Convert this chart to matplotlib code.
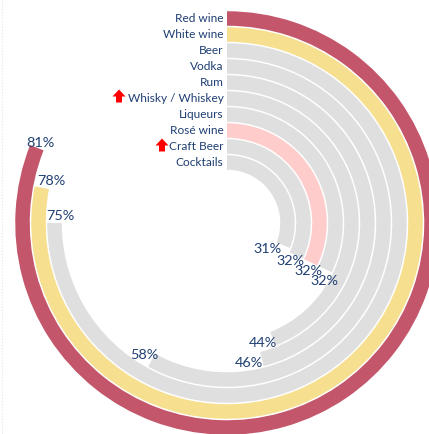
import numpy as np
import matplotlib
matplotlib.use("Agg")
import matplotlib.pyplot as plt
from matplotlib.lines import Line2D
from matplotlib.patches import Polygon
from matplotlib.transforms import IdentityTransform

plt.rcParams['font.family'] = ['Lato', 'DejaVu Sans']

categories = ['Red wine', 'White wine', 'Beer', 'Vodka', 'Rum', 'Whisky / Whiskey',
              'Liqueurs', 'Rosé wine', 'Craft Beer', 'Cocktails']
values = [81, 78, 75, 58, 46, 44, 32, 32, 32, 31]
colours = ['#C4566B', '#F6DF8E', '#DFDFDF', '#DFDFDF', '#DFDFDF', '#DFDFDF',
           '#DFDFDF', '#FFCCCC', '#DFDFDF', '#DFDFDF']

W, H = 429, 435
cx, cy = 227, 224   # centre of rings, px from top left
R = 212
pitch = 16
text_col = '#1F3F73'

# hand placed nudges for the percent labels (px, y up)
nudge = [(4, 6), (10, 8), (6, 8), (-7, 6), (-13, -3), (-10, -3), (-1, -11), (-2, -8), (-6, -4), (-16, -3)]

fig = plt.figure(figsize=(W / 100, H / 100), dpi=100)
ax = fig.add_axes([(cx - R) / W, (H - cy - R) / H, 2 * R / W, 2 * R / H], projection='polar')
ax.set_theta_zero_location('N')
ax.set_theta_direction(-1)
ax.set_ylim(0, R)
ax.axis('off')

for i, (name, v, c) in enumerate(zip(categories, values, colours)):
    r = R - 7.5 - i * pitch
    theta = v / 100 * 2 * np.pi
    ax.barh(r, theta, height=14.5, left=0, color=c, linewidth=0, clip_on=False)
    ax.annotate(name, xy=(0, r), xytext=(-3.5, 1), textcoords='offset pixels', ha='right',
                va='center', fontsize=8.6, color=text_col, annotation_clip=False)
    ax.annotate('%d%%' % v, xy=(theta, r), xytext=nudge[i], textcoords='offset pixels',
                ha='center', va='center', fontsize=10.4, color=text_col, annotation_clip=False)


def up_arrow(x, y):
    # x, y is the arrow centre in px from top left
    y = H - y
    pts = [(x - 3, y - 6.5), (x + 3, y - 6.5), (x + 3, y - 0.5), (x + 6.5, y - 0.5),
           (x, y + 6.5), (x - 6.5, y - 0.5), (x - 3, y - 0.5)]
    fig.add_artist(Polygon(pts, closed=True, color='#FF0000', lw=0, transform=IdentityTransform()))


up_arrow(119, 97)
up_arrow(162, 146)

# faint dotted edge of the original slide
fig.add_artist(Line2D([1.5, 1.5], [0, H], color='#E4E4E4', lw=0.8, ls=':', transform=IdentityTransform()))

fig.savefig('out.png', dpi=100)
